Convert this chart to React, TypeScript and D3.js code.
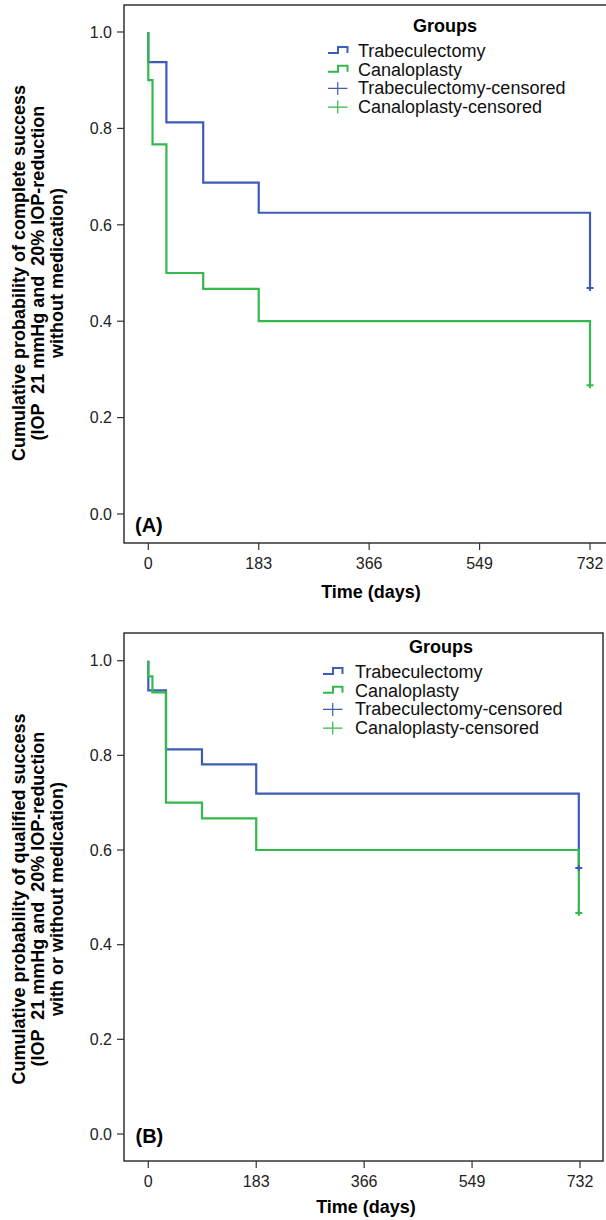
import { curveStepAfter, line, scaleLinear } from 'd3';

const timeTicks = [0, 183, 366, 549, 732];
const probTicks = [0, 0.2, 0.4, 0.6, 0.8, 1.0];
const legendLabels = [
  'Trabeculectomy',
  'Canaloplasty',
  'Trabeculectomy-censored',
  'Canaloplasty-censored',
];

// (A) complete success
const trabTimesA = [0, 0, 30, 91, 183, 732];
const trabSurvA = [1, 0.9375, 0.8125, 0.6875, 0.625, 0.469];
const canalTimesA = [0, 0, 7, 30, 91, 183, 732];
const canalSurvA = [1, 0.9, 0.767, 0.5, 0.467, 0.4, 0.267];

// (B) qualified success
const trabTimesB = [0, 0, 30, 91, 183, 730];
const trabSurvB = [1, 0.9375, 0.8125, 0.781, 0.719, 0.562];
const canalTimesB = [0, 0, 7, 30, 91, 183, 730];
const canalSurvB = [1, 0.967, 0.933, 0.7, 0.667, 0.6, 0.467];

const BLUE = '#3d5cb6';
const GREEN = '#33b84b';
const AXIS = '#333';
const FONT = '"Liberation Sans", Arial, sans-serif';

type Layout = {
  frame: [number, number, number, number]; // x0, x1, y0, y1
  xRange: [number, number];
  yRange: [number, number];
  yLabel: string[];
  yLabelCy: number;
  letter: string;
  letterPos: [number, number];
  legend: { groupsX: number; groupsY: number; symX: number; textX: number; y0: number; step: number };
  xTitle: [number, number];
};

type Series = { times: number[]; surv: number[]; color: string };

function Panel({ layout, series }: { layout: Layout; series: Series[] }) {
  const [fx0, fx1, fy0, fy1] = layout.frame;
  const x = scaleLinear().domain([0, 732]).range(layout.xRange);
  const y = scaleLinear().domain([0, 1]).range(layout.yRange);

  const stepLine = line<[number, number]>()
    .x((d) => x(d[0]))
    .y((d) => y(d[1]))
    .curve(curveStepAfter);

  const lg = layout.legend;

  return (
    <g fontFamily={FONT}>
      {/* frame */}
      <rect x={fx0} y={fy0} width={fx1 - fx0} height={fy1 - fy0} fill="none" stroke={AXIS} strokeWidth={1.5} />

      {/* y axis */}
      {probTicks.map((t) => (
        <g key={t}>
          <line x1={fx0 - 7} x2={fx0} y1={y(t)} y2={y(t)} stroke={AXIS} strokeWidth={1.2} />
          <text x={fx0 - 12} y={y(t) + 5.7} textAnchor="end" fontSize={16} fill="#222">
            {t.toFixed(1)}
          </text>
        </g>
      ))}

      {/* x axis */}
      {timeTicks.map((t) => (
        <g key={t}>
          <line x1={x(t)} x2={x(t)} y1={fy1} y2={fy1 + 7} stroke={AXIS} strokeWidth={1.2} />
          <text x={x(t)} y={fy1 + 26} textAnchor="middle" fontSize={16} fill="#222">
            {t}
          </text>
        </g>
      ))}
      <text x={layout.xTitle[0]} y={layout.xTitle[1]} textAnchor="middle" fontSize={18} fontWeight="bold">
        Time (days)
      </text>

      {/* y title */}
      {layout.yLabel.map((s, i) => (
        <text
          key={i}
          transform={`translate(${25 + i * 19},${layout.yLabelCy}) rotate(-90)`}
          textAnchor="middle"
          fontSize={18}
          fontWeight="bold"
          style={{ whiteSpace: 'pre' }}
        >
          {s}
        </text>
      ))}

      {/* curves */}
      {series.map((s, i) => {
        const pts = s.times.map((t, j) => [t, s.surv[j]] as [number, number]);
        return <path key={i} d={stepLine(pts) ?? ''} fill="none" stroke={s.color} strokeWidth={2.2} />;
      })}

      {/* censor marks on top */}
      {series.map((s, i) => {
        const n = s.times.length - 1;
        const cx = x(s.times[n]);
        const cy = y(s.surv[n]);
        return (
          <path key={i} d={`M${cx - 3.5},${cy}h7M${cx},${cy - 3}v6`} stroke={s.color} strokeWidth={2} />
        );
      })}

      <text x={layout.letterPos[0]} y={layout.letterPos[1]} fontSize={20} fontWeight="bold">
        {layout.letter}
      </text>

      {/* legend */}
      <text x={lg.groupsX} y={lg.groupsY} textAnchor="middle" fontSize={18} fontWeight="bold">
        Groups
      </text>
      {legendLabels.map((label, i) => {
        const by = lg.y0 + i * lg.step;
        const color = i % 2 === 0 ? BLUE : GREEN;
        const sym =
          i < 2
            ? `M${lg.symX},${by - 4}H${lg.symX + 10}V${by - 10}H${lg.symX + 19.5}V${by - 4}`
            : `M${lg.symX},${by - 6}h19.5M${lg.symX + 9.75},${by - 12.5}v13`;
        return (
          <g key={label}>
            <path d={sym} fill="none" stroke={color} strokeWidth={i < 2 ? 2 : 1.2} />
            <text x={lg.textX} y={by} fontSize={18} fill="#111">
              {label}
            </text>
          </g>
        );
      })}
    </g>
  );
}

const layoutA: Layout = {
  frame: [124, 613, 5, 543],
  xRange: [148.3, 590],
  yRange: [514, 32],
  yLabel: [
    'Cumulative probability of complete success',
    '(IOP  21 mmHg and  20% IOP-reduction',
    'without medication)',
  ],
  yLabelCy: 273,
  letter: '(A)',
  letterPos: [135, 532],
  legend: { groupsX: 445, groupsY: 32, symX: 328, textX: 358, y0: 57, step: 18.7 },
  xTitle: [371, 598],
};

const layoutB: Layout = {
  frame: [124, 603, 633, 1161],
  xRange: [148.3, 580],
  yRange: [1134, 660.7],
  yLabel: [
    'Cumulative probability of qualified success',
    '(IOP  21 mmHg and  20% IOP-reduction',
    'with or without medication)',
  ],
  yLabelCy: 899,
  letter: '(B)',
  letterPos: [135.5, 1143],
  legend: { groupsX: 441, groupsY: 653, symX: 323, textX: 355, y0: 678, step: 18.7 },
  xTitle: [366, 1213],
};

export default function App() {
  return (
    <svg
      width={606}
      height={1220}
      style={{ position: 'absolute', left: 0, top: 0, background: 'white' }}
    >
      <Panel
        layout={layoutA}
        series={[
          { times: trabTimesA, surv: trabSurvA, color: BLUE },
          { times: canalTimesA, surv: canalSurvA, color: GREEN },
        ]}
      />
      <Panel
        layout={layoutB}
        series={[
          { times: trabTimesB, surv: trabSurvB, color: BLUE },
          { times: canalTimesB, surv: canalSurvB, color: GREEN },
        ]}
      />
    </svg>
  );
}
